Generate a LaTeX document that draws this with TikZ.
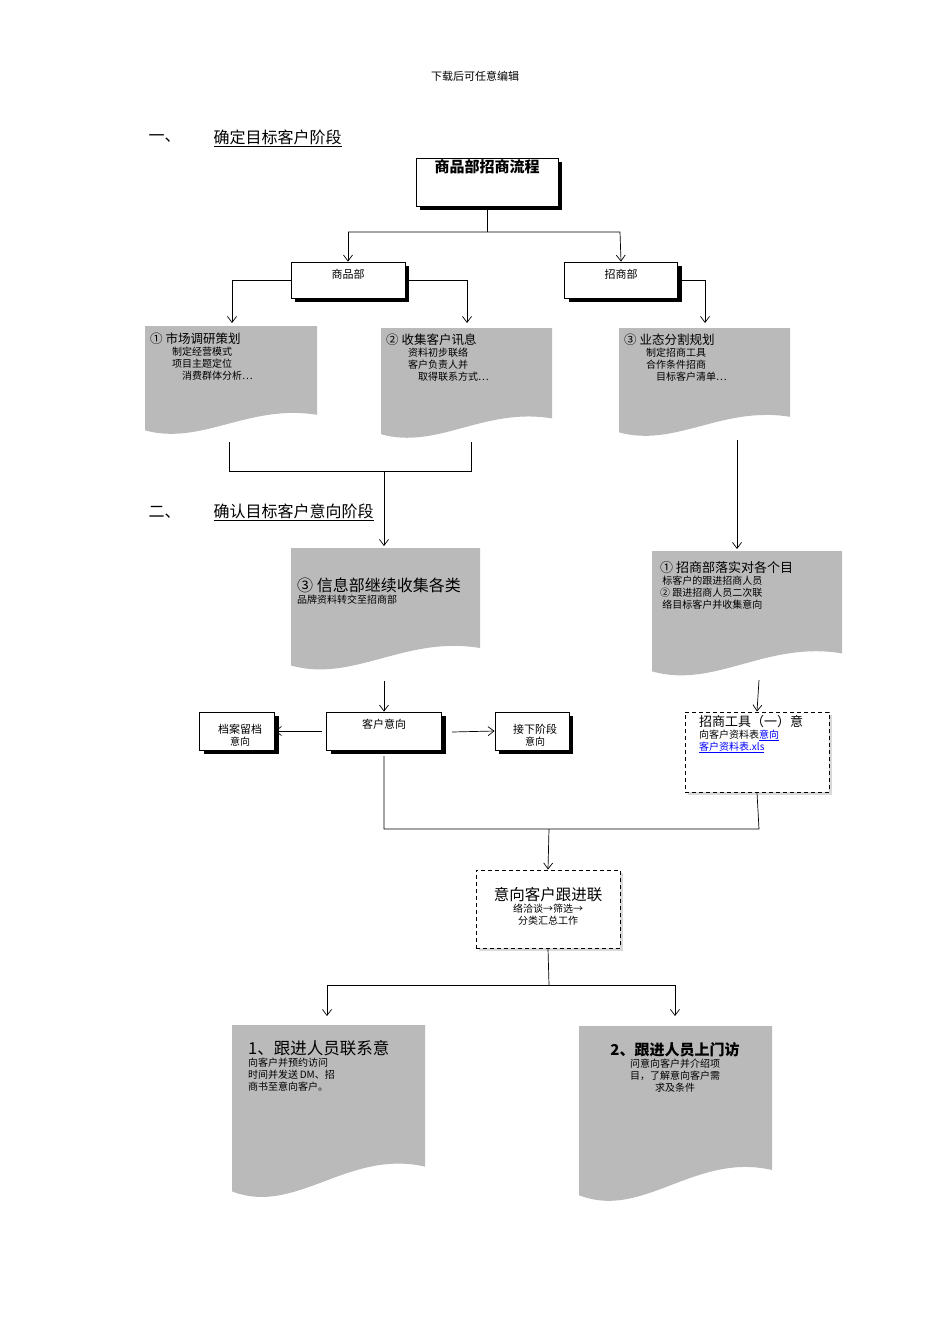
\documentclass[tikz,border=0pt]{standalone}
\usepackage{fontspec}
\setmainfont{Noto Sans CJK SC}
\usetikzlibrary{arrows.meta,shadows}
\newcommand\docbox[5]{%
  \pgfmathsetmacro\dw{#4-#2}\pgfmathsetmacro\dh{#5-#3}%
  \fill[fill=black!27] (#2,#3) -- (#4,#3) -- (#4,#5-0.2*\dh)
    .. controls (#2+0.6*\dw,#5-0.3*\dh) and (#2+0.33*\dw,#5+0.08*\dh) .. (#2,#5-0.06*\dh) -- cycle;
  \path (#2,#3) coordinate (#1nw) (#4,#5) coordinate (#1se);
  \node[inner sep=0pt,minimum width=\dw pt,minimum height=\dh pt] (#1) at ({(#2+#4)/2},{(#3+#5)/2}) {};}
\tikzset{
  arr/.style={-{Straight Barb[length=6pt,width=9pt]},line width=0.7pt},
  ln/.style={line width=0.7pt},
  sbox/.style={draw,line width=0.8pt,fill=white,inner sep=0pt,
    drop shadow={shadow xshift=4pt,shadow yshift=-4pt,fill=black,opacity=1}},
  dbox/.style={draw,line width=1pt,dash pattern=on 4pt off 3pt,fill=white,inner sep=0pt},
  txt/.style={inner sep=0pt,align=left,anchor=north west},
}
\begin{document}
\begin{tikzpicture}[x=1pt,y=-1pt]
\useasboundingbox (0,0) rectangle (950,1344);
\node (hdr) at (475,76) {\fontsize{11}{13}\selectfont 下载后可任意编辑};
\node[anchor=west] (s1n) at (145,138) {\fontsize{16}{18}\selectfont 一、};
\node[anchor=west] (s1) at (210,138) {\fontsize{16}{18}\selectfont\underline{确定目标客户阶段}};
\node[anchor=west] (s2n) at (145,512) {\fontsize{16}{18}\selectfont 二、};
\node[anchor=west] (s2) at (210,512) {\fontsize{16}{18}\selectfont\underline{确认目标客户意向阶段}};
% title
\node[sbox,minimum width=142pt,minimum height=48pt] (title) at (487,182) {};
\node[anchor=north,inner sep=0pt] at (487,159) {\fontsize{15}{17}\selectfont\bfseries 商品部招商流程};
\node[sbox,minimum width=114pt,minimum height=36pt] (spb) at (348,280) {};
\node[anchor=north,inner sep=0pt] at (348,269) {\fontsize{11}{13}\selectfont 商品部};
\node[sbox,minimum width=113pt,minimum height=36pt] (zsb) at (621,280) {};
\node[anchor=north,inner sep=0pt] at (621,269) {\fontsize{11}{13}\selectfont 招商部};
\draw[ln] (title.south) -- (487,232) coordinate (t1);
\draw[arr] (348,232) -- (spb.north);
\draw[arr] (348,232) -- (620,232) -- (zsb.north);
% docs row 1
\docbox{d1}{145}{326}{317}{437}
\docbox{d2}{381}{328}{552}{441}
\docbox{d3}{619}{328}{790}{439}
\node[txt] at (150,333) {\fontsize{12.5}{19}\selectfont ① 市场调研策划\\\hspace{2.2em}制定经营模式\\\hspace{2.2em}项目主题定位\\\hspace{3.2em}消费群体分析…};
\node[txt] at (386,334) {\fontsize{12.5}{19}\selectfont ② 收集客户讯息\\\hspace{2.2em}资料初步联络\\\hspace{2.2em}客户负责人并\\\hspace{3.2em}取得联系方式…};
\node[txt] at (624,334) {\fontsize{12.5}{19}\selectfont ③ 业态分割规划\\\hspace{2.2em}制定招商工具\\\hspace{2.2em}合作条件招商\\\hspace{3.2em}目标客户清单…};
\draw[arr] (spb.west) -| (232,323);
\draw[arr] (spb.east) -| (467,323);
\draw[arr] (zsb.east) -| (705,323);
\draw[ln] (229,442) -- (229,471) -- (471,471) -- (471,442);
\docbox{d4}{291}{548}{480}{673}
\docbox{d5}{652}{551}{842}{679}
\draw[arr] (384,471) -- (384,546);
\draw[arr] (737,440) -- (737,549);
\node[txt] at (297,578) {\fontsize{16}{22}\selectfont ③ 信息部继续收集各类\\品牌资料转交至招商部};
\node[txt] at (660,561) {\fontsize{13}{19.3}\selectfont ① 招商部落实对各个目\\\ 标客户的跟进招商人员\\② 跟进招商人员二次联\\\ 络目标客户并收集意向};
% middle boxes
\node[sbox,minimum width=115pt,minimum height=38pt] (ky) at (384,731) {};
\node[anchor=north,inner sep=0pt] at (384,719) {\fontsize{11}{13}\selectfont 客户意向};
\node[sbox,minimum width=75pt,minimum height=38pt] (da) at (237,731) {};
\node[inner sep=0pt,align=center] at (240,735) {\fontsize{11}{16}\selectfont 档案留档\\意向};
\node[sbox,minimum width=74pt,minimum height=38pt] (jx) at (532,731) {};
\node[inner sep=0pt,align=center] at (535,735) {\fontsize{11}{16}\selectfont 接下阶段\\意向};
\draw[arr] (384,681) -- (ky.north);
\draw[arr] (322,731) -- (da.east);
\draw[arr] (452,732) -- (jx.west);
\node[dbox,minimum width=144pt,minimum height=80pt,
  drop shadow={shadow xshift=3pt,shadow yshift=-3pt,fill=black!15,opacity=1}] (gj) at (757,752) {};
\node[txt] at (699,715) {\fontsize{13}{19.5}\selectfont 招商工具（一）意\\向客户资料表\textcolor{blue}{\underline{意向}}\\\textcolor{blue}{\underline{客户资料表.xls}}};
\draw[arr] (759,680) -- (gj.north);
\draw[ln] (384,756) -- (384,829) -- (759,829) -- (gj.south);
\node[dbox,minimum width=144pt,minimum height=78pt,
  drop shadow={shadow xshift=3pt,shadow yshift=-3pt,fill=black!15,opacity=1}] (yx) at (548,909) {};
\node[inner sep=0pt,align=center] at (548,906) {\fontsize{15.5}{22}\selectfont 意向客户跟进联\\络洽谈→筛选→\\分类汇总工作};
\draw[arr] (549,829) -- (yx.north);
\draw[ln] (yx.south) -- (549,985);
\docbox{d6}{232}{1025}{425}{1202}
\docbox{d7}{579}{1026}{772}{1206}
\draw[arr] (327,985) -- (327,1016);
\draw[arr] (327,985) -- (675,985) -- (675,1016);
\node[txt] at (248,1040) {\fontsize{16.5}{23.5}\selectfont 1、跟进人员联系意\\向客户并预约访问\\时间并发送\,DM、招\\商书至意向客户。};
\node[inner sep=0pt,align=center,anchor=north] at (675,1042) {\fontsize{15}{22}\selectfont\bfseries 2、跟进人员上门访\\问意向客户并介绍项\\目，了解意向客户需\\求及条件};
\end{tikzpicture}
\end{document}
